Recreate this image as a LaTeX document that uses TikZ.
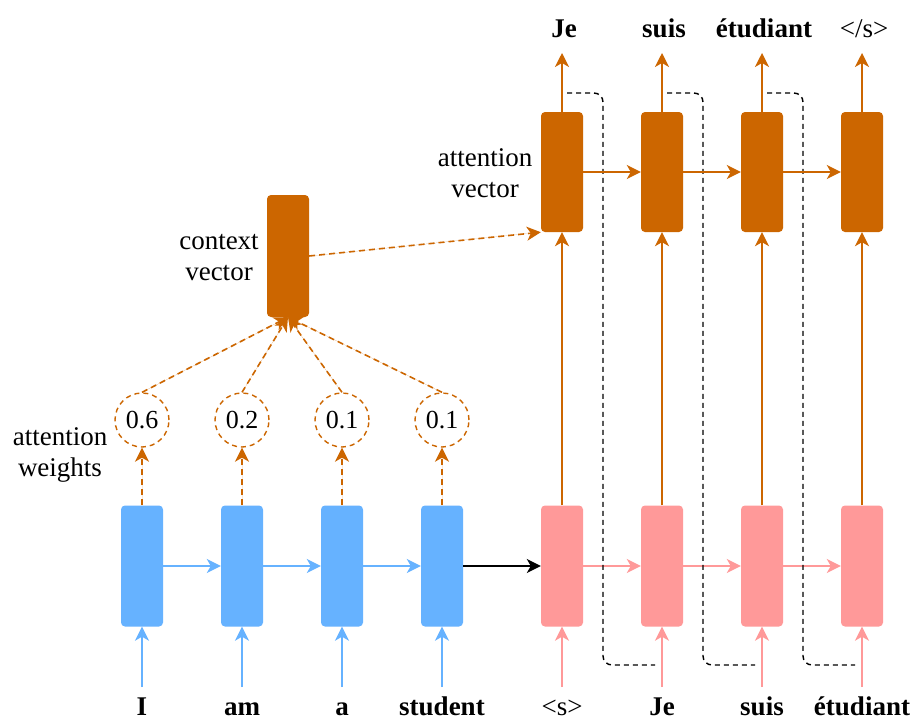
\documentclass[tikz,border=0pt]{standalone}
\usepackage{fontspec}
\setmainfont{Liberation Serif}
\usetikzlibrary{arrows.meta,calc}
\definecolor{encblue}{HTML}{66B2FF}
\definecolor{decpink}{HTML}{FF9999}
\definecolor{attorange}{HTML}{CC6600}

\begin{document}
\begin{tikzpicture}[x=1pt,y=-1pt,
  cell/.style={rectangle, rounded corners=4pt, minimum width=42pt,
    minimum height=121pt, inner sep=0pt},
  enc/.style={cell, fill=encblue},
  dec/.style={cell, fill=decpink},
  att/.style={cell, fill=attorange, minimum height=120pt},
  weight/.style={circle, draw=attorange, line width=1.4pt,
    dash pattern=on 5pt off 4pt, minimum size=54pt, inner sep=0pt,
    font=\fontsize{26}{30}\selectfont},
  word/.style={font=\fontsize{27}{31}\selectfont\bfseries, inner sep=0pt, anchor=base},
  plainword/.style={font=\fontsize{27}{31}\selectfont, inner sep=0pt, anchor=base},
  lbl/.style={font=\fontsize{27}{31}\selectfont, align=center, inner sep=0pt},
  arr/.style={line width=1.6pt, -{Stealth[length=14pt,width=14pt,inset=4pt]}},
  attdash/.style={arr, draw=attorange, fill=attorange, dash pattern=on 6pt off 4pt},
  feedback/.style={black, line width=1.4pt, dash pattern=on 5pt off 4pt, rounded corners=9pt}
]
\fill[white] (0,0) rectangle (914,721);
\useasboundingbox (0,0) rectangle (914,721);

% encoder cells
\foreach \i/\x in {1/142,2/242,3/342,4/442}
  \node[enc] (e\i) at (\x,566) {};
% decoder cells
\foreach \i/\x in {1/562,2/662,3/762,4/862}
  \node[dec] (d\i) at (\x,566) {};
% attention vectors
\foreach \i/\x in {1/562,2/662,3/762,4/862}
  \node[att] (a\i) at (\x,172) {};
% context vector
\node[cell, fill=attorange, minimum height=122pt] (ctx) at (288,256) {};

% attention weights
\node[weight] (w1) at (142,420) {0.6};
\node[weight] (w2) at (242,420) {0.2};
\node[weight] (w3) at (342,420) {0.1};
\node[weight] (w4) at (442,420) {0.1};

% side labels
\node[lbl] (lw) at (60,455) {attention\\weights};
\node[lbl] (lc) at (219,258) {context\\vector};
\node[lbl] (la) at (485,173) {attention\\vector};

% source words
\node[word] (s1) at (142,715) {I};
\node[word] (s2) at (242,715) {am};
\node[word] (s3) at (342,715) {a};
\node[word] (s4) at (442,715) {student};
% target inputs
\node[plainword] (t1) at (562,715) {<s>};
\node[word] (t2) at (662,715) {Je};
\node[word] (t3) at (762,715) {suis};
\node[word] (t4) at (862,715) {étudiant};
% outputs
\node[word] (o1) at (564,37) {Je};
\node[word] (o2) at (664,37) {suis};
\node[word] (o3) at (764,37) {étudiant};
\node[plainword] (o4) at (864,37) {</s>};

% arrow ends
\foreach \i/\x in {1/142,2/242,3/342,4/442,5/562,6/662,7/762,8/862}
  \coordinate (in\i) at (\x,687);
\foreach \i/\x in {1/562,2/662,3/762,4/862}
  \coordinate (out\i) at (\x,53);

% encoder inputs and recurrence
\foreach \i in {1,2,3,4}
  \draw[arr, encblue] (in\i) -- (e\i.south);
\draw[arr, encblue] (e1.east) -- (e2.west);
\draw[arr, encblue] (e2.east) -- (e3.west);
\draw[arr, encblue] (e3.east) -- (e4.west);

% encoder to decoder
\draw[arr, black] (e4.east) -- (d1.west);

% decoder inputs and recurrence
\draw[arr, decpink] (in5) -- (d1.south);
\draw[arr, decpink] (in6) -- (d2.south);
\draw[arr, decpink] (in7) -- (d3.south);
\draw[arr, decpink] (in8) -- (d4.south);
\draw[arr, decpink] (d1.east) -- (d2.west);
\draw[arr, decpink] (d2.east) -- (d3.west);
\draw[arr, decpink] (d3.east) -- (d4.west);

% feedback of each prediction to the next input
\foreach \i/\x in {1/567,2/667,3/767} {
  \coordinate (fa\i) at (\x,93);
  \coordinate (fb\i) at (\x+88,665);
  \draw[feedback] (fa\i) -- ++(36,0) |- (fb\i);
}

% decoder to attention layer
\foreach \i in {1,2,3,4} {
  \draw[arr, attorange] (d\i.north) -- (a\i.south);
  \draw[arr, attorange] (a\i.north) -- (out\i);
}
\draw[arr, attorange] (a1.east) -- (a2.west);
\draw[arr, attorange] (a2.east) -- (a3.west);
\draw[arr, attorange] (a3.east) -- (a4.west);

% attention weights and context
\foreach \i in {1,2,3,4} {
  \draw[attdash] (e\i.north) -- (w\i.south);
  \draw[attdash] (w\i.north) -- (ctx.south);
}
\draw[attdash] (ctx.east) -- (a1.south west);
\end{tikzpicture}
\end{document}
